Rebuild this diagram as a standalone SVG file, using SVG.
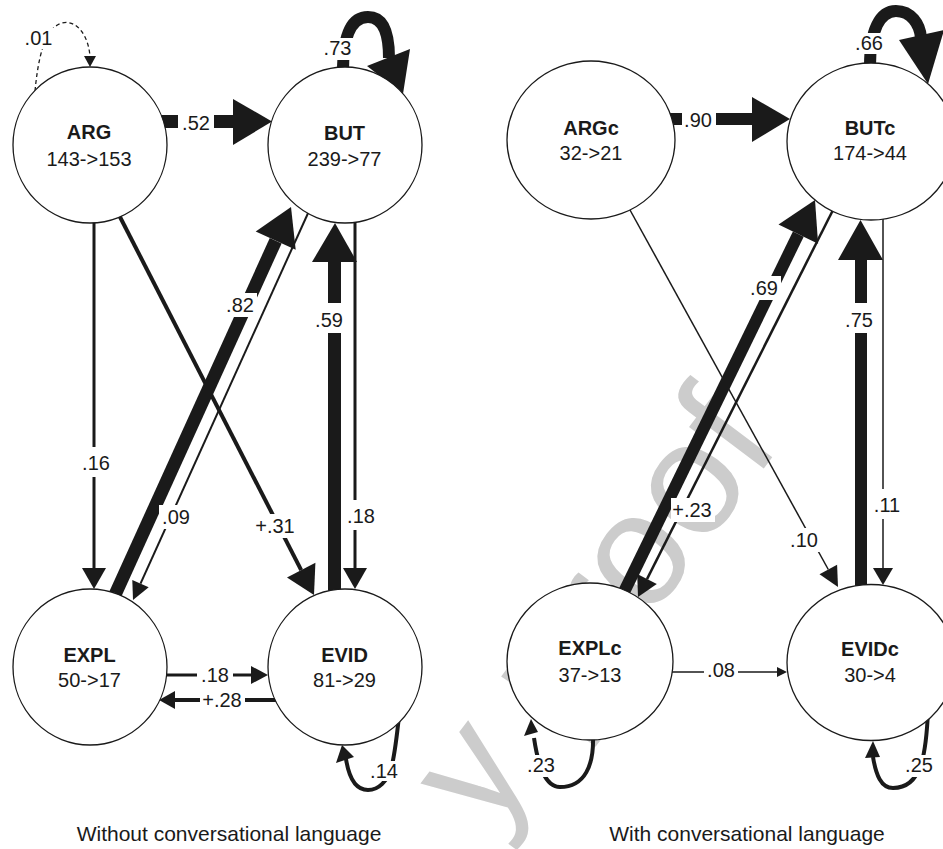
<svg xmlns="http://www.w3.org/2000/svg" width="943" height="849" viewBox="0 0 943 849">
<style>
  .n ellipse { fill: #fff; stroke: #1a1a1a; stroke-width: 1.3; }
  .t { font-family: "Liberation Sans", Arial, Helvetica, sans-serif; font-size: 20px; fill: #1a1a1a; text-anchor: middle; }
  .b { font-weight: bold; }
  .cap { font-size: 21px; }
  .e { stroke: #1a1a1a; fill: none; }
  .h { fill: #1a1a1a; stroke: none; }
  .bg { fill: #fff; }
  .wm { font-family: "Liberation Sans", Arial, Helvetica, sans-serif; font-size: 160px; fill: #cccccc; }
</style>
<rect width="943" height="849" fill="#fff"/>

<g id="watermark">
  <text class="wm" transform="translate(487.7,834.8) rotate(-53)">y proof</text>
</g>

<g id="connectors">
  <!-- left panel -->
  <path class="e" d="M 35 91 C 38 60, 44 28, 62 23 C 78 19, 89 38, 90 57" stroke-width="1.3" stroke-dasharray="4 3"/>
  <polygon class="h" points="84,56 96,56 90,67"/>

  <line class="e" x1="160" y1="121.5" x2="234" y2="121.5" stroke-width="13"/>
  <polygon class="h" points="233,99 233,145 272,121.5"/>

  <path class="e" d="M 343 72 C 343 32, 353 17, 368 17 C 382 17, 389 30, 389 58" stroke-width="12"/>
  <polygon class="h" points="367,66 410,49 403,94"/>

  <line class="e" x1="94" y1="220" x2="94" y2="569" stroke-width="3"/>
  <polygon class="h" points="82,568 106,568 94,589"/>

  <line class="e" x1="119" y1="215" x2="301.2" y2="570.1" stroke-width="4"/>
  <polygon class="h" points="315.4,562.8 287,577.4 314,595"/>

  <line class="e" x1="114" y1="597" x2="275.7" y2="240.7" stroke-width="13"/>
  <polygon class="h" points="255.7,231.6 295.7,249.8 291,207"/>

  <line class="e" x1="309" y1="211" x2="140.5" y2="583.6" stroke-width="2"/>
  <polygon class="h" points="148.7,587.3 132.3,579.9 133,600"/>

  <line class="e" x1="334.5" y1="592" x2="334.5" y2="261" stroke-width="13"/>
  <polygon class="h" points="312,262 357,262 335,223"/>

  <line class="e" x1="355" y1="218" x2="355" y2="569" stroke-width="3"/>
  <polygon class="h" points="343,568 367,568 355,589"/>

  <line class="e" x1="164" y1="675" x2="252" y2="675" stroke-width="3"/>
  <polygon class="h" points="251,666 251,684 268,675"/>

  <line class="e" x1="278" y1="700" x2="174" y2="700" stroke-width="4"/>
  <polygon class="h" points="175,691 175,709 159,700"/>

  <path class="e" d="M 399 716 C 397 735, 395 752, 392 765 C 388 782, 378 790, 368 790 C 356 790, 349 778, 346 759" stroke-width="4"/>
  <polygon class="h" points="336,763 354,757 342,745"/>

  <!-- right panel -->
  <line class="e" x1="668" y1="119" x2="753" y2="119" stroke-width="12"/>
  <polygon class="h" points="752,97 752,142 790,119"/>

  <path class="e" d="M 870 66 C 870 30, 880 11, 896 11 C 911 11, 920 24, 921 38" stroke-width="12"/>
  <polygon class="h" points="899,40 944,30 928,84"/>

  <line class="e" x1="630" y1="210" x2="828.3" y2="569.5" stroke-width="1.5"/>
  <polygon class="h" points="837.1,564.7 819.5,574.3 838,587"/>

  <line class="e" x1="623" y1="594" x2="798.3" y2="234.1" stroke-width="12"/>
  <polygon class="h" points="818.1,243.8 778.5,224.4 815,200"/>

  <line class="e" x1="833" y1="210" x2="647" y2="579.1" stroke-width="2.5"/>
  <polygon class="h" points="656.8,584 637.2,574.1 638,597"/>

  <line class="e" x1="861" y1="588" x2="861" y2="259" stroke-width="12"/>
  <polygon class="h" points="838,260 883,260 860.5,220"/>

  <line class="e" x1="883" y1="216" x2="883" y2="569" stroke-width="1.5"/>
  <polygon class="h" points="873,568 893,568 883,585"/>

  <line class="e" x1="671" y1="672" x2="778" y2="672" stroke-width="1.5"/>
  <polygon class="h" points="777,667 777,677 787,672"/>

  <path class="e" d="M 593 736 C 594 765, 585 787, 560 787 C 545 787, 538 765, 534 738" stroke-width="4"/>
  <polygon class="h" points="524,736 538,732 531,719"/>

  <path class="e" d="M 928 711 C 927 735, 925 752, 921 765 C 915 782, 905 788, 893 788 C 881 788, 876 775, 873 757" stroke-width="4"/>
  <polygon class="h" points="865,758 880,757 873,741"/>
</g>

<g id="node-ARG" class="n">
  <ellipse cx="90" cy="145" rx="77" ry="78"/>
  <text class="t b" x="89" y="139">ARG</text>
  <text class="t" x="89" y="166">143-&gt;153</text>
</g>
<g id="node-BUT" class="n">
  <ellipse cx="345" cy="145" rx="77" ry="78"/>
  <text class="t b" x="344.5" y="140">BUT</text>
  <text class="t" x="344.5" y="166">239-&gt;77</text>
</g>
<g id="node-EXPL" class="n">
  <ellipse cx="90" cy="667" rx="77" ry="78"/>
  <text class="t b" x="89.5" y="662">EXPL</text>
  <text class="t" x="89.5" y="687">50-&gt;17</text>
</g>
<g id="node-EVID" class="n">
  <ellipse cx="345" cy="667" rx="77" ry="78"/>
  <text class="t b" x="344.5" y="662">EVID</text>
  <text class="t" x="344.5" y="687">81-&gt;29</text>
</g>
<g id="node-ARGc" class="n">
  <ellipse cx="591" cy="140" rx="84" ry="79"/>
  <text class="t b" x="591" y="135">ARGc</text>
  <text class="t" x="591" y="160">32-&gt;21</text>
</g>
<g id="node-BUTc" class="n">
  <ellipse cx="871" cy="141.5" rx="84" ry="78.5"/>
  <text class="t b" x="870" y="135">BUTc</text>
  <text class="t" x="870" y="160">174-&gt;44</text>
</g>
<g id="node-EXPLc" class="n">
  <ellipse cx="590" cy="661.5" rx="83" ry="78.5"/>
  <text class="t b" x="590" y="655">EXPLc</text>
  <text class="t" x="590" y="682">37-&gt;13</text>
</g>
<g id="node-EVIDc" class="n">
  <ellipse cx="871" cy="662.5" rx="84" ry="78"/>
  <text class="t b" x="870" y="656">EVIDc</text>
  <text class="t" x="870" y="682">30-&gt;4</text>
</g>

<g id="edge-labels">
  <rect class="bg" x="22" y="28" width="33" height="21"/><text class="t" x="38.5" y="45">.01</text>
  <rect class="bg" x="178" y="108" width="36" height="26"/><text class="t" x="196" y="130">.52</text>
  <rect class="bg" x="320" y="38" width="35" height="22"/><text class="t" x="337.5" y="55">.73</text>
  <rect class="bg" x="79" y="447" width="34" height="30"/><text class="t" x="96" y="470">.16</text>
  <rect class="bg" x="223" y="293" width="34" height="24"/><text class="t" x="240" y="312">.82</text>
  <rect class="bg" x="312" y="303" width="40" height="30"/><text class="t" x="329" y="327">.59</text>
  <rect class="bg" x="159" y="505" width="34" height="24"/><text class="t" x="176" y="524">.09</text>
  <rect class="bg" x="252" y="514" width="46" height="24"/><text class="t" x="275" y="533">+.31</text>
  <rect class="bg" x="344" y="500" width="34" height="30"/><text class="t" x="361" y="523">.18</text>
  <rect class="bg" x="197" y="662" width="36" height="25"/><text class="t" x="215" y="682">.18</text>
  <rect class="bg" x="200" y="688" width="45" height="24"/><text class="t" x="222" y="707">+.28</text>
  <rect class="bg" x="367" y="761" width="34" height="20"/><text class="t" x="384" y="778">.14</text>

  <rect class="bg" x="682" y="106" width="34" height="26"/><text class="t" x="698" y="127">.90</text>
  <rect class="bg" x="853" y="33" width="33" height="21"/><text class="t" x="869" y="50">.66</text>
  <rect class="bg" x="747" y="276" width="34" height="24"/><text class="t" x="764" y="295">.69</text>
  <rect class="bg" x="840" y="303" width="40" height="30"/><text class="t" x="859" y="327">.75</text>
  <rect class="bg" x="671" y="498" width="44" height="24"/><text class="t" x="692" y="517">+.23</text>
  <rect class="bg" x="787" y="528" width="34" height="24"/><text class="t" x="804" y="547">.10</text>
  <rect class="bg" x="870" y="489" width="34" height="30"/><text class="t" x="887" y="512">.11</text>
  <rect class="bg" x="704" y="660" width="34" height="22"/><text class="t" x="721" y="677">.08</text>
  <rect class="bg" x="524" y="755" width="34" height="22"/><text class="t" x="541" y="772">.23</text>
  <rect class="bg" x="902" y="755" width="34" height="22"/><text class="t" x="919" y="772">.25</text>
</g>

<g id="captions">
  <text class="t cap" x="229" y="841">Without conversational language</text>
  <text class="t cap" x="747" y="841">With conversational language</text>
</g>
</svg>
